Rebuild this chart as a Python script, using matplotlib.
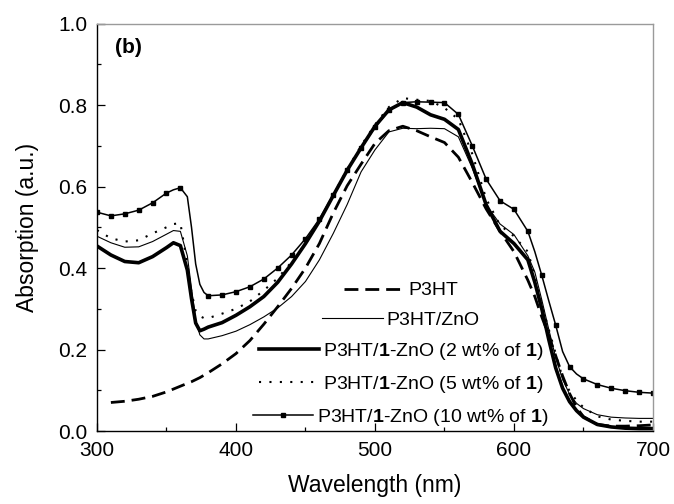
import numpy as np
import matplotlib
matplotlib.use('Agg')
import matplotlib.pyplot as plt
from matplotlib.ticker import MultipleLocator

plt.rcParams['font.family'] = ['Liberation Sans', 'DejaVu Sans']
plt.rcParams['mathtext.fontset'] = 'custom'
plt.rcParams['mathtext.rm'] = 'Liberation Sans'
plt.rcParams['mathtext.bf'] = 'Liberation Sans:bold'

# wavelength grid (nm)
wl = [300, 310, 320, 330, 340, 350, 355, 360, 365, 368, 371, 374, 377,
      380, 390, 400, 410, 420, 430, 440, 450, 460, 470, 480, 490, 500,
      510, 520, 530, 540, 550, 560, 570, 580, 590, 600, 610, 615, 620,
      625, 630, 635, 640, 645, 650, 660, 670, 680, 690, 700]

p3ht = [np.nan, 0.070, 0.073, 0.078, 0.085, 0.096, 0.103, 0.110, 0.117, 0.121, 0.126, 0.131, 0.137,
        0.143, 0.165, 0.190, 0.222, 0.262, 0.305, 0.350, 0.400, 0.460, 0.535, 0.602, 0.655, 0.706,
        0.737, 0.748, 0.737, 0.722, 0.708, 0.672, 0.610, 0.545, 0.490, 0.440, 0.370, 0.330, 0.280,
        0.235, 0.185, 0.135, 0.092, 0.058, 0.035, 0.016, 0.012, 0.012, 0.013, 0.015]

p3ht_zno = [0.478, 0.462, 0.451, 0.452, 0.465, 0.483, 0.492, 0.490, 0.430, 0.350, 0.272, 0.236, 0.226,
            0.226, 0.234, 0.245, 0.261, 0.280, 0.302, 0.330, 0.367, 0.420, 0.485, 0.556, 0.636, 0.690,
            0.734, 0.743, 0.742, 0.743, 0.742, 0.722, 0.645, 0.555, 0.508, 0.482, 0.430, 0.390, 0.322,
            0.250, 0.180, 0.127, 0.090, 0.068, 0.055, 0.040, 0.034, 0.032, 0.031, 0.031]

zno_2wt = [0.454, 0.432, 0.416, 0.413, 0.428, 0.450, 0.462, 0.455, 0.395, 0.325, 0.265, 0.246, 0.250,
           0.255, 0.266, 0.284, 0.305, 0.330, 0.365, 0.410, 0.460, 0.515, 0.578, 0.640, 0.695, 0.748,
           0.788, 0.806, 0.795, 0.776, 0.765, 0.740, 0.655, 0.555, 0.490, 0.460, 0.420, 0.365, 0.300,
           0.225, 0.155, 0.105, 0.072, 0.050, 0.034, 0.016, 0.010, 0.007, 0.006, 0.006]

zno_5wt = [0.493, 0.473, 0.465, 0.468, 0.485, 0.500, 0.508, 0.510, 0.410, 0.340, 0.295, 0.282, 0.277,
           0.277, 0.288, 0.300, 0.318, 0.345, 0.375, 0.415, 0.460, 0.515, 0.580, 0.642, 0.700, 0.752,
           0.795, 0.817, 0.813, 0.810, 0.793, 0.765, 0.680, 0.570, 0.505, 0.478, 0.440, 0.380, 0.310,
           0.250, 0.190, 0.130, 0.098, 0.075, 0.058, 0.036, 0.028, 0.025, 0.023, 0.023]

zno_10wt = [0.537, 0.528, 0.533, 0.542, 0.560, 0.584, 0.592, 0.597, 0.575, 0.500, 0.410, 0.360, 0.340,
            0.332, 0.334, 0.342, 0.354, 0.373, 0.400, 0.432, 0.472, 0.520, 0.580, 0.640, 0.695, 0.745,
            0.787, 0.806, 0.808, 0.807, 0.806, 0.777, 0.700, 0.618, 0.565, 0.544, 0.490, 0.440, 0.382,
            0.320, 0.260, 0.195, 0.158, 0.140, 0.128, 0.114, 0.105, 0.099, 0.095, 0.093]

labels = ['P3HT', 'P3HT/ZnO',
          r'P3HT/$\mathbf{1}$-ZnO (2 wt% of $\mathbf{1}$)',
          r'P3HT/$\mathbf{1}$-ZnO (5 wt% of $\mathbf{1}$)',
          r'P3HT/$\mathbf{1}$-ZnO (10 wt% of $\mathbf{1}$)']

fig = plt.figure(figsize=(6.74, 5.04), dpi=100)
ax = fig.add_axes([0.1439, 0.1448, 0.8249, 0.8085])

marks = [w % 10 == 0 for w in wl]

ax.plot(wl, p3ht, color='black', lw=2.0, dashes=(5, 2.5), label=labels[0])
ax.plot(wl, p3ht_zno, color='black', lw=0.8, label=labels[1])
ax.plot(wl, zno_2wt, color='black', lw=2.6, label=labels[2])
ax.plot(wl, zno_5wt, color='black', lw=1.5, linestyle=(0, (1, 4)), label=labels[3])
ax.plot(wl, zno_10wt, color='black', lw=1.1, marker='s', markersize=3.0,
        markevery=marks, label=labels[4])

ax.set_xlim(300, 700)
ax.set_ylim(0, 1.0)
ax.xaxis.set_major_locator(MultipleLocator(100))
ax.xaxis.set_minor_locator(MultipleLocator(50))
ax.yaxis.set_major_locator(MultipleLocator(0.2))
ax.yaxis.set_minor_locator(MultipleLocator(0.1))
ax.yaxis.set_major_formatter(matplotlib.ticker.FormatStrFormatter('%.1f'))

ax.tick_params(which='both', direction='in', top=False, right=False, width=0.9)
ax.tick_params(which='major', length=6, labelsize=15, pad=7)
ax.tick_params(which='minor', length=3)
for s in ['left', 'bottom']:
    ax.spines[s].set_linewidth(1.0)
for s in ['top', 'right']:
    ax.spines[s].set_color('#9a9a9a')
    ax.spines[s].set_linewidth(1.0)

ax.set_xlabel('Wavelength (nm)', fontsize=16.5, labelpad=10)
ax.set_ylabel('Absorption (a.u.)', fontsize=16.5, labelpad=14)

ax.text(0.032, 0.94, '(b)', transform=ax.transAxes, fontsize=15,
        fontweight='bold', ha='left', va='center')

leg = ax.legend(loc='lower center', bbox_to_anchor=(0.547, 0.007), frameon=False,
                fontsize=14, handlelength=3.1, handletextpad=0.2,
                labelspacing=0.62, borderpad=0, borderaxespad=0)
for col in leg._legend_handle_box.get_children():
    col.align = 'center'

fig.savefig('out.png', dpi=100)
